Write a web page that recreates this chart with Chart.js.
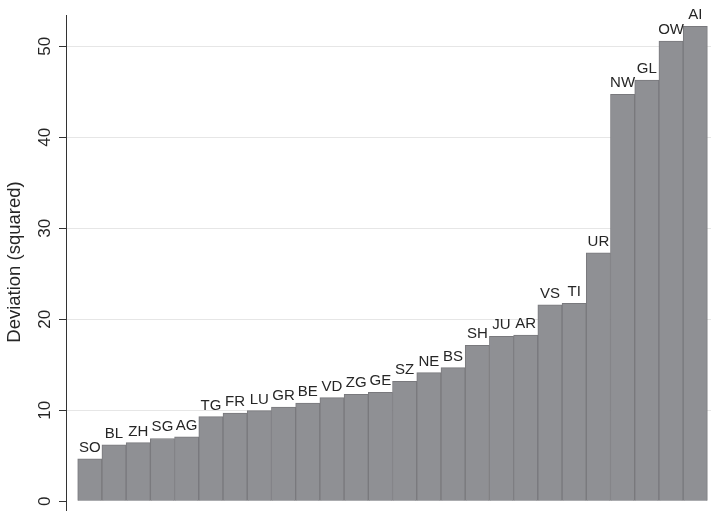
<!DOCTYPE html>
<html>
<head>
<meta charset="utf-8">
<title>Deviation by canton</title>
<script src="https://cdn.jsdelivr.net/npm/chart.js@4.4.1/dist/chart.umd.min.js"></script>
<style>
  html, body { margin: 0; padding: 0; background: #fff; }
  #chart { display: block; }
</style>
</head>
<body>
<canvas id="chart" width="711" height="511"></canvas>
<script>
// cantons, sorted by squared deviation
var cantons = ["SO", "BL", "ZH", "SG", "AG", "TG", "FR", "LU", "GR", "BE", "VD", "ZG", "GE",
               "SZ", "NE", "BS", "SH", "JU", "AR", "VS", "TI", "UR", "NW", "GL", "OW", "AI"];
var deviation = [4.65, 6.2, 6.45, 6.9, 7.07, 9.3, 9.7, 9.96, 10.36, 10.8, 11.39, 11.76, 11.98,
                 13.19, 14.13, 14.68, 17.14, 18.13, 18.27, 21.6, 21.76, 27.3, 44.73, 46.3, 50.58, 52.2];
var yTicks = [0, 10, 20, 30, 40, 50];

var FONT = "'Liberation Sans', Arial, sans-serif";

// labels above each bar + rotated y tick labels and axis title
var stataLabels = {
    id: 'stataLabels',
    afterDatasetsDraw: function(chart) {
        var ctx = chart.ctx;
        var meta = chart.getDatasetMeta(0);
        ctx.save();
        ctx.fillStyle = '#262626';
        ctx.font = '15px ' + FONT;
        ctx.textAlign = 'center';
        ctx.textBaseline = 'alphabetic';
        meta.data.forEach(function(bar, i) {
            ctx.fillText(cantons[i], bar.x, bar.y - 7);
        });
        ctx.restore();
    },
    afterDraw: function(chart) {
        var ctx = chart.ctx;
        var y = chart.scales.y;
        ctx.save();
        ctx.fillStyle = '#262626';
        ctx.textAlign = 'center';
        ctx.textBaseline = 'middle';
        ctx.font = '17px ' + FONT;
        yTicks.forEach(function(v) {
            ctx.save();
            ctx.translate(45, y.getPixelForValue(v));
            ctx.rotate(-Math.PI / 2);
            ctx.fillText(String(v), 0, 0);
            ctx.restore();
        });
        ctx.font = '18.5px ' + FONT;
        ctx.translate(15, 262);
        ctx.rotate(-Math.PI / 2);
        ctx.fillText('Deviation (squared)', 0, 0);
        ctx.restore();
    }
};

var ctx = document.getElementById('chart').getContext('2d');
window.devChart = new Chart(ctx, {
    type: 'bar',
    data: {
        datasets: [{
            data: deviation.map(function(v, i) { return { x: i, y: v }; }),
            backgroundColor: '#8f9094',
            borderColor: '#79797d',
            borderWidth: 1,
            barPercentage: 1,
            categoryPercentage: 1
        }]
    },
    options: {
        responsive: false,
        animation: false,
        devicePixelRatio: 1,
        layout: { padding: { top: 15, right: 0, bottom: 0, left: 0 } },
        plugins: {
            legend: { display: false },
            tooltip: { enabled: false }
        },
        scales: {
            x: {
                type: 'linear',
                min: -0.983,
                max: 25.65,
                offset: false,
                display: false,
                grid: { display: false, offset: false }
            },
            y: {
                min: -1.07,
                max: 53.44,
                afterBuildTicks: function(scale) {
                    scale.ticks = yTicks.map(function(v) { return { value: v }; });
                },
                afterFit: function(scale) { scale.width = 66; },
                ticks: { display: false },
                grid: {
                    color: function(c) { return c.tick && c.tick.value === 0 ? 'rgba(0,0,0,0)' : '#e6e6e6'; },
                    lineWidth: 1,
                    tickColor: '#333',
                    tickLength: 7,
                    drawTicks: true
                },
                border: { display: true, color: '#333', width: 1 }
            }
        }
    },
    plugins: [stataLabels]
});
</script>
</body>
</html>
